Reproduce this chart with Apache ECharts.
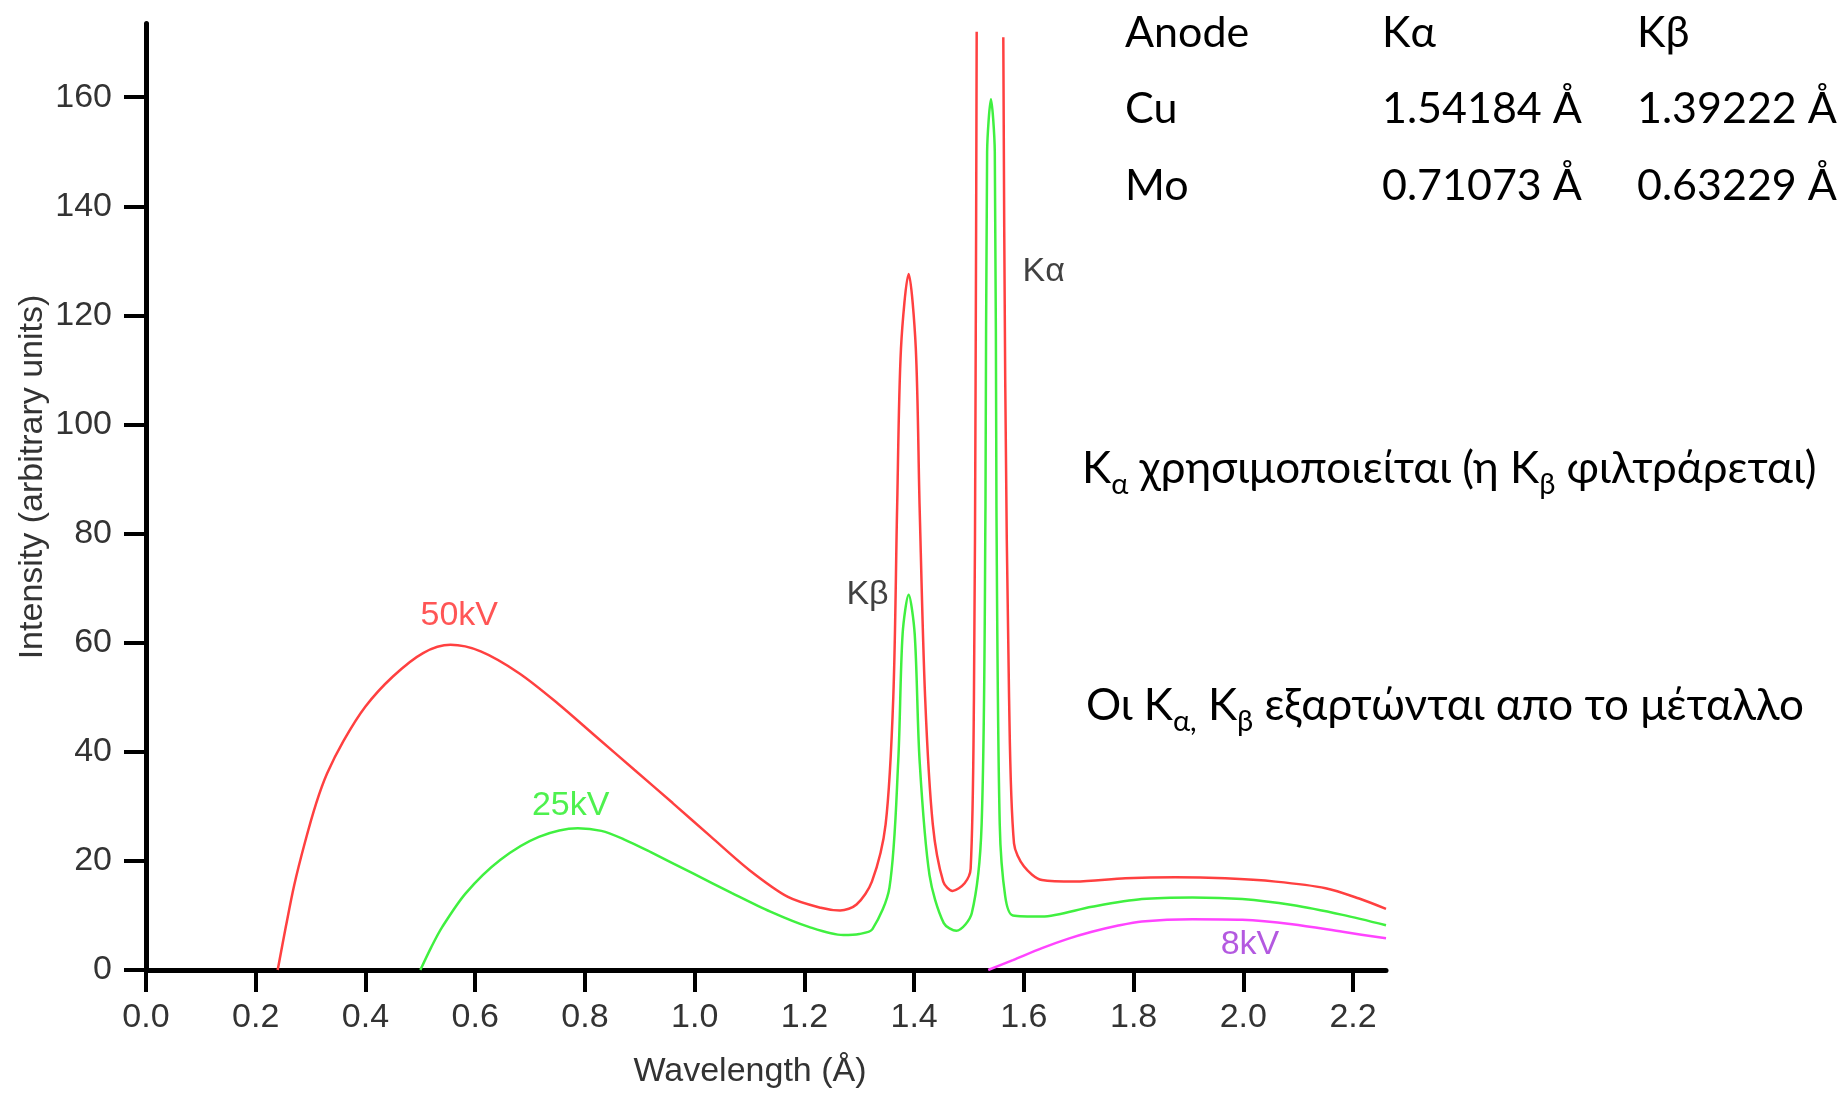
<!DOCTYPE html>
<html>
<head>
<meta charset="utf-8">
<script src="https://cdn.jsdelivr.net/npm/echarts@6/dist/echarts.min.js"></script>
<style>
html,body{margin:0;padding:0;background:#fff;}
#chart{width:1837px;height:1095px;}
</style>
</head>
<body>
<div id="chart"></div>
<script>
// ---- data (wavelength in Å, intensity in arbitrary units) ----
const spectrum50kV = [
  [0.24, 0], [0.255, 8], [0.27, 15.5], [0.29, 23.5], [0.31, 30.5], [0.33, 36], [0.36, 42],
  [0.40, 48.3], [0.45, 53.8], [0.505, 58.1], [0.555, 59.6], [0.61, 58.4], [0.68, 54.4],
  [0.75, 48.9], [0.82, 42.8], [0.89, 36.7], [0.96, 30.6], [1.03, 24.4], [1.10, 18.3],
  [1.17, 13.4], [1.23, 11.4], [1.265, 10.9], [1.295, 12.0], [1.323, 16.2], [1.348, 26.7],
  [1.362, 50], [1.369, 84.8], [1.376, 113.9], [1.390, 127.6], [1.403, 114], [1.410, 84.8],
  [1.420, 50], [1.434, 26.7], [1.453, 16.2], [1.470, 14.5], [1.492, 15.9], [1.503, 18.6],
  [1.509, 50], [1.512, 108], [1.514, 172], [1.54, '-'], [1.5625, 171], [1.566, 108],
  [1.573, 50], [1.582, 23.2], [1.60, 19.0], [1.633, 16.5], [1.693, 16.2], [1.785, 16.8],
  [1.876, 17.0], [1.967, 16.8], [2.059, 16.2], [2.15, 15.0], [2.211, 13.1], [2.26, 11.2]
];
const spectrum25kV = [
  [0.50, 0], [0.52, 4.2], [0.54, 7.9], [0.583, 14.1], [0.646, 20.2], [0.716, 24.4],
  [0.787, 26.0], [0.83, 25.5], [0.87, 24.0], [0.92, 21.6], [0.997, 17.7], [1.068, 14.1],
  [1.138, 10.7], [1.208, 7.9], [1.271, 6.4], [1.30, 6.6], [1.324, 7.5], [1.355, 15.1],
  [1.371, 38.3], [1.379, 61.6], [1.390, 68.8], [1.401, 61.6], [1.410, 38.3], [1.428, 17.4],
  [1.454, 8.6], [1.477, 7.2], [1.505, 10.4], [1.523, 26.7], [1.530, 84.8], [1.533, 150],
  [1.540, 159.6], [1.547, 150], [1.550, 84.8], [1.556, 26.7], [1.566, 13.5], [1.58, 10.0],
  [1.633, 9.8], [1.724, 11.6], [1.815, 13.0], [1.907, 13.3], [1.998, 13.0], [2.089, 11.9],
  [2.181, 10.1], [2.26, 8.2]
];
const spectrum8kV = [
  [1.535, 0], [1.58, 1.8], [1.633, 4.0], [1.68, 5.7], [1.724, 7.0], [1.77, 8.1],
  [1.815, 8.9], [1.907, 9.3], [1.998, 9.2], [2.089, 8.4], [2.181, 7.0], [2.26, 5.8]
];
const curveLabels = [
  { name: '50kV', value: [0.571, 64.9], color: '#ff2a2a' },
  { name: '25kV', value: [0.774, 30.1], color: '#22ee22' },
  { name: '8kV', value: [2.012, 4.6], color: '#a030d8' },
  { name: 'Kβ', value: [1.315, 68.9], color: '#111111' },
  { name: 'Kα', value: [1.636, 128.0], color: '#111111' }
];
const tableHeader = ['Anode', 'Kα', 'Kβ'];
const tableRows = [
  ['Cu', '1.54184 Å', '1.39222 Å'],
  ['Mo', '0.71073 Å', '0.63229 Å']
];
const xAxisTitle = 'Wavelength (Å)';
const yAxisTitle = 'Intensity (arbitrary units)';
const note1 = '{m|K}{s|α}{m| χρησιμοποιείται (η K}{s|β}{m| φιλτράρεται)}';
const note2 = '{m|Οι K}{s|α,}{m| K}{s|β}{m| εξαρτώνται απο το μέταλλο}';

// ---- chart ----
const chart = echarts.init(document.getElementById('chart'), null, { renderer: 'canvas' });
const axisFont = 'Liberation Sans, Arial, sans-serif';
const noteFont = 'Lato, sans-serif';

const graphics = [];
const colX = [1125, 1382, 1637];
const rowY = [33, 109, 186];
[tableHeader].concat(tableRows).forEach((row, r) => {
  row.forEach((txt, c) => {
    graphics.push({
      type: 'text', x: colX[c], y: rowY[r], silent: true,
      style: { text: txt, font: '43px ' + noteFont, fill: '#000', align: 'left', verticalAlign: 'middle' }
    });
  });
});
const rich = {
  m: { fontFamily: 'Lato', fontSize: 44, lineHeight: 60, color: '#000', verticalAlign: 'middle' },
  s: { fontFamily: 'Lato', fontSize: 29, lineHeight: 30, color: '#000', verticalAlign: 'bottom' }
};
graphics.push({
  type: 'text', x: 1082, y: 469, silent: true,
  style: { text: note1, rich: rich, align: 'left', verticalAlign: 'middle' }
});
graphics.push({
  type: 'text', x: 1086, y: 706, silent: true,
  style: { text: note2, rich: rich, align: 'left', verticalAlign: 'middle' }
});
graphics.push({
  type: 'text', x: 750, y: 1072, silent: true,
  style: { text: xAxisTitle, font: '34px ' + axisFont, fill: '#333', align: 'center', verticalAlign: 'middle' }
});
graphics.push({
  type: 'text', x: 33, y: 477, rotation: Math.PI / 2, silent: true,
  style: { text: yAxisTitle, font: '34px ' + axisFont, fill: '#333', align: 'center', verticalAlign: 'middle' }
});

const lineBase = {
  type: 'line', showSymbol: false, symbol: 'none', smooth: 0.3,
  connectNulls: false, animation: false, silent: true
};

chart.setOption({
  animation: false,
  backgroundColor: '#ffffff',
  grid: { left: 146, right: 451, top: 23.5, bottom: 125, containLabel: false },
  xAxis: {
    type: 'value', min: 0, max: 2.26, interval: 0.2,
    axisLine: { show: true, onZero: false, lineStyle: { color: '#000', width: 5 } },
    axisTick: { show: true, length: 22, lineStyle: { color: '#000', width: 4 } },
    axisLabel: { fontSize: 34, fontFamily: axisFont, color: '#333', margin: 31,
      showMaxLabel: false, formatter: v => v.toFixed(1) },
    splitLine: { show: false }
  },
  yAxis: {
    type: 'value', min: 0, max: 173.5, interval: 20,
    axisLine: { show: true, onZero: false, lineStyle: { color: '#000', width: 5 } },
    axisTick: { show: true, length: 22, lineStyle: { color: '#000', width: 4 } },
    axisLabel: { fontSize: 34, fontFamily: axisFont, color: '#333', margin: 34,
      showMaxLabel: false },
    splitLine: { show: false }
  },
  graphic: graphics,
  series: [
    Object.assign({}, lineBase, { name: '50kV', data: spectrum50kV, lineStyle: { color: '#ff4040', width: 2.5 }, z: 3 }),
    Object.assign({}, lineBase, { name: '25kV', data: spectrum25kV, lineStyle: { color: '#40f040', width: 2.5 }, z: 4 }),
    Object.assign({}, lineBase, { name: '8kV', data: spectrum8kV, lineStyle: { color: '#ff44ff', width: 2.5 }, z: 4 }),
    {
      type: 'scatter', symbolSize: 0, silent: true, animation: false, clip: false,
      data: curveLabels.map(d => ({
        name: d.name, value: d.value,
        label: { show: true, position: 'inside', formatter: '{b}', fontSize: 34,
          fontFamily: axisFont, color: d.color }
      }))
    }
  ]
});
</script>
</body>
</html>
